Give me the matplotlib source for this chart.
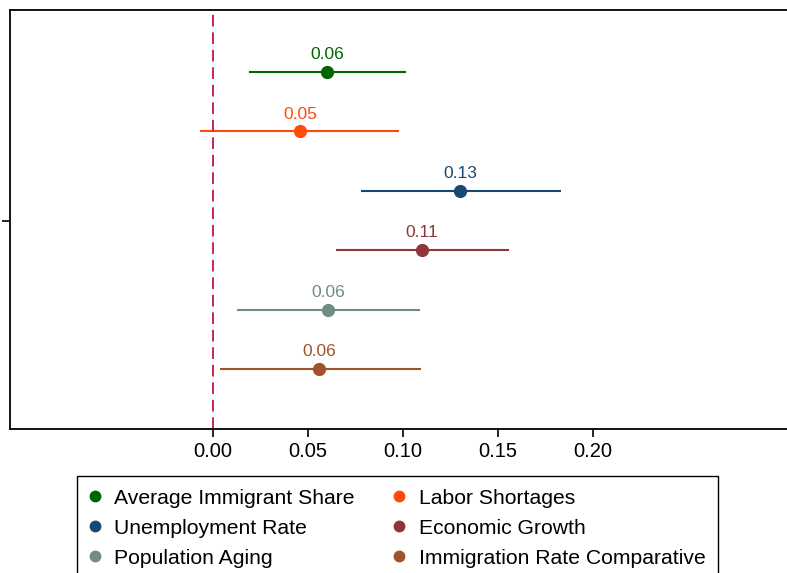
import matplotlib
matplotlib.use("Agg")
import matplotlib.pyplot as plt
from matplotlib.lines import Line2D

plt.rcParams['font.family'] = ['Liberation Sans', 'DejaVu Sans']

# coefplot data (point estimate, 95% CI)
names = ["Average Immigrant Share", "Labor Shortages", "Unemployment Rate",
         "Economic Growth", "Population Aging", "Immigration Rate Comparative"]
coef = [0.060, 0.046, 0.130, 0.110, 0.0605, 0.056]
ci_low = [0.019, -0.007, 0.078, 0.065, 0.0125, 0.0035]
ci_high = [0.1015, 0.098, 0.183, 0.156, 0.109, 0.1095]
labels = ["0.06", "0.05", "0.13", "0.11", "0.06", "0.06"]
colors = ["#006400", "#FF4A0A", "#1A476F", "#90353B", "#6E8E84", "#A0522D"]
xticks = [0.00, 0.05, 0.10, 0.15, 0.20]

W, H = 787, 573
fig = plt.figure(figsize=(W / 100, H / 100), dpi=100)
# axes run past the right edge like the cropped original
ax = fig.add_axes([10 / W, 1 - 429 / H, 800 / W, 419 / H])

ypos = list(range(len(names), 0, -1))
for i in range(len(names)):
    ax.plot([ci_low[i], ci_high[i]], [ypos[i], ypos[i]], color=colors[i], lw=1.5,
            solid_capstyle='butt')
    ax.plot(coef[i], ypos[i], 'o', color=colors[i], ms=8.5)
    ax.annotate(labels[i], (coef[i], ypos[i]), xytext=(0, 7), textcoords='offset points',
                ha='center', va='bottom', color=colors[i], fontsize=12.5)

ax.axvline(0, color="#C8245A", lw=1.4, ls=(0, (6, 3)))

ax.set_xlim(-0.1068, 0.3142)
ax.set_ylim(-0.01, 7.044)
ax.set_xticks(xticks)
ax.set_xticklabels(["%.2f" % t for t in xticks], fontsize=14.5)
ax.set_yticks([3.5])
ax.set_yticklabels([""])
ax.tick_params(axis='both', direction='out', length=6, width=1.2, color='black')
for s in ['top', 'left', 'bottom', 'right']:
    ax.spines[s].set_linewidth(1.3)

# legend fills row by row in the original: reorder for matplotlib's column fill
order = [0, 2, 4, 1, 3, 5]
handles = [Line2D([], [], marker='o', ls='none', color=colors[k], ms=7.5) for k in order]
fig.legend(handles, [names[k] for k in order], loc='upper left',
           bbox_to_anchor=(77 / W, 1 - 476 / H),
           ncol=2, fontsize=15.2, frameon=True, fancybox=False, edgecolor='black',
           framealpha=1, borderpad=0.6, labelspacing=0.52, handletextpad=0.7,
           columnspacing=1.85, handlelength=0.47, borderaxespad=0)

fig.savefig("out.png", dpi=100)
